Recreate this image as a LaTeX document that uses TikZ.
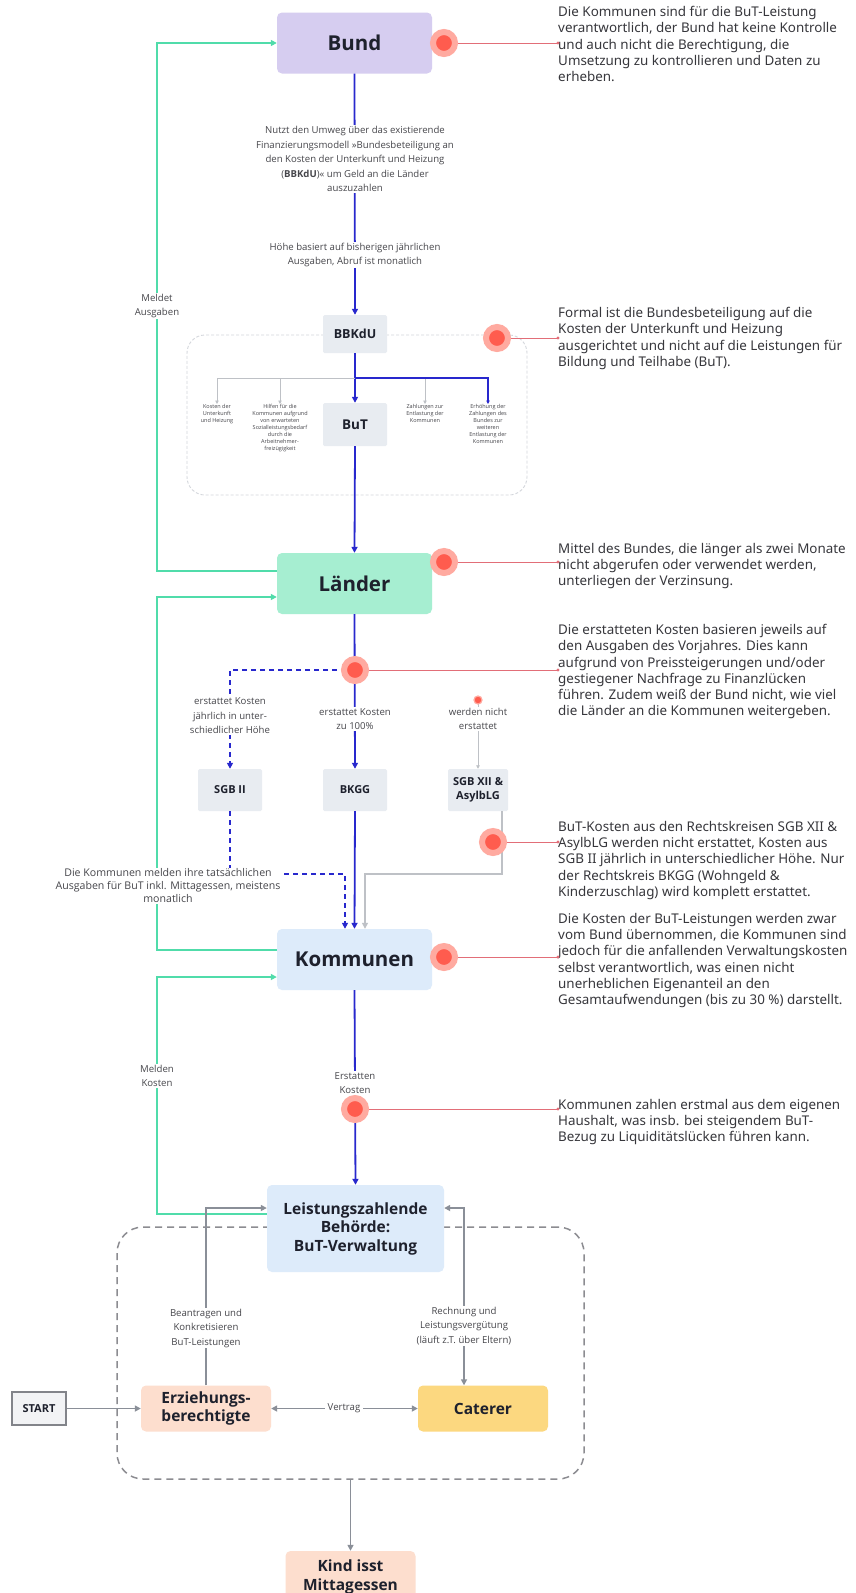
\documentclass[tikz,border=0pt]{standalone}
\usepackage{fontspec}
\setmainfont{Noto Sans}
\newfontfamily\lblfont{Open Sans}
\newfontfamily\boxfont{Open Sans}
\usetikzlibrary{arrows.meta,calc}
\definecolor{bluel}{RGB}{40,40,205}
\definecolor{greenl}{RGB}{80,220,170}
\definecolor{redl}{RGB}{226,110,120}
\definecolor{dotc}{RGB}{255,92,78}
\definecolor{haloc}{RGB}{255,170,160}
\definecolor{greyl}{RGB}{138,143,152}
\definecolor{greythin}{RGB}{190,193,198}
\definecolor{bundf}{RGB}{214,205,240}
\definecolor{laenderf}{RGB}{166,238,209}
\definecolor{kommf}{RGB}{221,235,250}
\definecolor{lightf}{RGB}{232,236,241}
\definecolor{peachf}{RGB}{253,222,206}
\definecolor{caterf}{RGB}{252,216,128}
\definecolor{startf}{RGB}{242,243,245}
\definecolor{startc}{RGB}{130,132,138}
\definecolor{txt}{RGB}{30,33,45}
\definecolor{notet}{RGB}{55,55,60}
\definecolor{lblt}{RGB}{70,70,75}
\definecolor{reg1c}{RGB}{212,215,220}
\definecolor{reg2c}{RGB}{140,140,145}
\begin{document}
\begin{tikzpicture}[x=1pt,y=-1pt,
  bigbox/.style={rounded corners=5pt, inner sep=0pt, align=center, text=txt, font=\boxfont\bfseries\fontsize{20.5}{25}\selectfont, minimum width=155, minimum height=61},
  smallbox/.style={rounded corners=1.5pt, fill=lightf, inner sep=0pt, align=center, text=txt, minimum width=64, font=\boxfont\bfseries\fontsize{12.5}{15}\selectfont},
  midbox/.style={rounded corners=5pt, inner sep=0pt, align=center, text=txt, font=\boxfont\bfseries\fontsize{15.5}{18.5}\selectfont},
  note/.style={inner sep=0pt, align=left, text=notet, font=\fontsize{13.4}{16.3}\selectfont, anchor=north west},
  lbl/.style={inner sep=1pt, align=center, text=lblt, font=\lblfont\fontsize{9.6}{14.5}\selectfont, fill=white},
  tinylbl/.style={inner sep=0.5pt, align=center, text=lblt, font=\lblfont\fontsize{5.5}{7}\selectfont, anchor=north},
  bl/.style={draw=bluel, line width=1.8pt},
  bldash/.style={dash pattern=on 5pt off 4pt},
  gr/.style={draw=greenl, line width=1.8pt},
  gmid/.style={draw=greyl, line width=1.6pt},
  gthin/.style={draw=greythin, line width=0.8pt},
  rl/.style={draw=redl, line width=0.9pt},
  arr/.style={-{Triangle[length=6pt,width=6pt]}},
  arrs/.style={-{Triangle[length=3.5pt,width=3.5pt]}},
  arrb/.style={{Triangle[length=6pt,width=6pt]}-{Triangle[length=6pt,width=6pt]}},
  rdot/.style={circle, fill=dotc, draw=haloc, line width=6pt, minimum size=22, inner sep=0pt},
  rdotsmall/.style={circle, fill=dotc, draw=haloc, line width=1.2pt, minimum size=8, inner sep=0pt}
]
\fill[white] (0,0) rectangle (856,1593);
\useasboundingbox (0,0) rectangle (856,1593);

% regions
\node[draw=reg1c, dash pattern=on 3pt off 2pt, line width=0.9pt, rounded corners=18pt, minimum width=340, minimum height=160, inner sep=0pt] (reg1) at (357,415) {};
\node[draw=reg2c, dash pattern=on 7pt off 5pt, line width=1.5pt, rounded corners=26pt, minimum width=467, minimum height=252, inner sep=0pt] (reg2) at (350.5,1353) {};

% boxes
\node[bigbox, fill=bundf] (bund) at (354.5,43) {Bund};
\node[smallbox, minimum height=38] (bbkdu) at (355,334) {BBKdU};
\node[smallbox, minimum height=43, font=\boxfont\bfseries\fontsize{13.5}{16}\selectfont] (but) at (355,424.5) {BuT};
\node[bigbox, fill=laenderf] (laender) at (354.5,583.5) {Länder};
\node[smallbox, minimum height=42, font=\boxfont\bfseries\fontsize{11}{14}\selectfont] (sgb2) at (230,790) {SGB II};
\node[smallbox, minimum height=42, font=\boxfont\bfseries\fontsize{11}{14}\selectfont] (bkgg) at (355,790) {BKGG};
\node[smallbox, minimum height=42, minimum width=60, font=\boxfont\bfseries\fontsize{11}{14}\selectfont] (sgb12) at (478,790) {SGB XII \&\\AsylbLG};
\node[bigbox, fill=kommf] (komm) at (354.5,959.5) {Kommunen};
\node[midbox, fill=kommf, minimum width=177, minimum height=87] (leist) at (355.5,1228.5) {Leistungszahlende\\Behörde:\\BuT-Verwaltung};
\node[midbox, fill=peachf, minimum width=130, minimum height=46] (erz) at (206,1408.5) {Erziehungs-\\berechtigte};
\node[midbox, fill=caterf, minimum width=130, minimum height=46] (cat) at (483,1408.5) {Caterer};
\node[draw=startc, line width=1.5pt, fill=startf, minimum width=54, minimum height=33, inner sep=0pt, font=\boxfont\bfseries\fontsize{11}{12}\selectfont, text=txt] (start) at (39,1408.5) {START};
\node[midbox, fill=peachf, minimum width=130, minimum height=52] (kind) at (350.5,1577) {Kind isst\\Mittagessen};

% tiny branch labels
\node[tinylbl] (k1) at (217,404) {Kosten der\\Unterkunft\\und Heizung};
\node[tinylbl] (k2) at (280,404) {Hilfen für die\\Kommunen aufgrund\\von erwarteten\\Sozialleistungsbedarf\\durch die\\Arbeitnehmer-\\freizügigkeit};
\node[tinylbl] (k3) at (425,404) {Zahlungen zur\\Entlastung der\\Kommunen};
\node[tinylbl] (k4) at (488,404) {Erhöhung der\\Zahlungen des\\Bundes zur\\weiteren\\Entlastung der\\Kommunen};

% notes
\node[note] (n1) at (558,6) {Die Kommunen sind für die BuT-Leistung\\verantwortlich, der Bund hat keine Kontrolle\\und auch nicht die Berechtigung, die\\Umsetzung zu kontrollieren und Daten zu\\erheben.};
\node[note] (n2) at (558,307) {Formal ist die Bundesbeteiligung auf die\\Kosten der Unterkunft und Heizung\\ausgerichtet und nicht auf die Leistungen für\\Bildung und Teilhabe (BuT).};
\node[note] (n3) at (558,543) {Mittel des Bundes, die länger als zwei Monate\\nicht abgerufen oder verwendet werden,\\unterliegen der Verzinsung.};
\node[note] (n4) at (558,624) {Die erstatteten Kosten basieren jeweils auf\\den Ausgaben des Vorjahres. Dies kann\\aufgrund von Preissteigerungen und/oder\\gestiegener Nachfrage zu Finanzlücken\\führen. Zudem weiß der Bund nicht, wie viel\\die Länder an die Kommunen weitergeben.};
\node[note] (n5) at (558,821) {BuT-Kosten aus den Rechtskreisen SGB XII \&\\AsylbLG werden nicht erstattet, Kosten aus\\SGB II jährlich in unterschiedlicher Höhe. Nur\\der Rechtskreis BKGG (Wohngeld \&\\Kinderzuschlag) wird komplett erstattet.};
\node[note] (n6) at (558,913) {Die Kosten der BuT-Leistungen werden zwar\\vom Bund übernommen, die Kommunen sind\\jedoch für die anfallenden Verwaltungskosten\\selbst verantwortlich, was einen nicht\\unerheblichen Eigenanteil an den\\Gesamtaufwendungen (bis zu 30 \%) darstellt.};
\node[note] (n7) at (558,1099) {Kommunen zahlen erstmal aus dem eigenen\\Haushalt, was insb. bei steigendem BuT-\\Bezug zu Liquiditätslücken führen kann.};

% coordinates
\coordinate (c1) at (444,43);
\coordinate (c2) at (497,338);
\coordinate (c3) at (444,562);
\coordinate (c4) at (355,670);
\coordinate (c5) at (493,842);
\coordinate (c6) at (444,957);
\coordinate (c7) at (355,1109);
\coordinate (sd) at (478,700);
\coordinate (bj) at (355,378);
\coordinate (kd) at (345,874);
\coordinate (kg) at (365,874);
\coordinate (kx) at (502,874);
\coordinate (rv) at (464,1208);

% blue main flow
\draw[bl, arr] (bund.south) -- (bbkdu.north);
\draw[bl, arr] (bbkdu.south) -- (but.north);
\draw[gthin, arrs] (bj) -| (k1.north);
\draw[gthin, arrs] (k2.north |- bj) -- (k2.north);
\draw[gthin, arrs] (k3.north |- bj) -- (k3.north);
\draw[draw=bluel, line width=1.4pt, arrs] (bj) -| (k4.north);
\draw[bl, arr] (but.south) -- (laender.north);
\draw[bl, arr] (laender.south) -- (bkgg.north);
\draw[bl, bldash, arr] (c4) -| (sgb2.north);
\draw[draw=greythin, line width=1pt, arrs] (sd) -- (sgb12.north);
\draw[bl, bldash, arr] (sgb2.south) |- (kd) -- (kd |- komm.north);
\draw[bl, arr] (bkgg.south) -- (komm.north);
\draw[draw=greythin, line width=1.3pt, arr] (sgb12.south -| kx) -- (kx) -- (kg) -- (kg |- komm.north);
\draw[bl, arr] (komm.south) -- (leist.north);

% green feedback
\draw[gr, arr] ([yshift=12.5pt]laender.west) -- ++(-120,0) |- (bund.west);
\draw[gr, arr] ([yshift=9.5pt]komm.west) -- ++(-120,0) |- ([yshift=-13.5pt]laender.west);
\draw[gr, arr] ([yshift=14.5pt]leist.west) -- ++(-110,0) |- ([yshift=-17.5pt]komm.west);

% bottom grey
\draw[gmid, arr] (start.east) -- (erz.west);
\draw[gmid, arrb] (erz.east) -- (cat.west);
\draw[gmid, arr] (erz.north) |- (rv -| leist.west);
\draw[gmid, arrb] (rv -| leist.east) -- (rv) -- (rv |- cat.north);
\draw[gmid, arr] (reg2.south) -- (kind.north);

% red note connectors
\foreach \c/\n in {c1/n1,c2/n2,c3/n3,c4/n4,c5/n5,c6/n6,c7/n7}{
  \draw[rl] (\c) -- (\c -| \n.west);
  \fill[redl] (\c -| \n.west) circle (1.6);
}

% labels
\node[lbl] (l1) at (355,159) {Nutzt den Umweg über das existierende\\Finanzierungsmodell »Bundesbeteiligung an\\den Kosten der Unterkunft und Heizung\\(\textbf{BBKdU})« um Geld an die Länder\\auszuzahlen};
\node[lbl] (l2) at (355,255) {Höhe basiert auf bisherigen jährlichen\\Ausgaben, Abruf ist monatlich};
\node[lbl] (l3) at (157,306) {Meldet\\Ausgaben};
\node[lbl] (l4) at (230,716) {erstattet Kosten\\jährlich in unter-\\schiedlicher Höhe};
\node[lbl] (l5) at (355,719) {erstattet Kosten\\zu 100\%};
\node[lbl] (l6) at (478,719) {werden nicht\\erstattet};
\node[lbl, font=\lblfont\fontsize{10.6}{13}\selectfont] (l7) at (168,886) {Die Kommunen melden ihre tatsächlichen\\Ausgaben für BuT inkl. Mittagessen, meistens\\monatlich};
\node[lbl] (l8) at (157,1076) {Melden\\Kosten};
\node[lbl] (l9) at (355,1083) {Erstatten\\Kosten};
\node[lbl] (l10) at (206,1328) {Beantragen und\\Konkretisieren\\BuT-Leistungen};
\node[lbl] (l11) at (464,1326) {Rechnung und\\Leistungsvergütung\\(läuft z.T. über Eltern)};
\node[lbl, inner sep=3pt] (l12) at (344,1408.5) {Vertrag};

% red dots
\node[rdot] (d1) at (c1) {};
\node[rdot] (d2) at (c2) {};
\node[rdot] (d3) at (c3) {};
\node[rdot] (d4) at (c4) {};
\node[rdot] (d5) at (c5) {};
\node[rdot] (d6) at (c6) {};
\node[rdot] (d7) at (c7) {};
\node[rdotsmall] (d0) at (sd) {};
\end{tikzpicture}
\end{document}
